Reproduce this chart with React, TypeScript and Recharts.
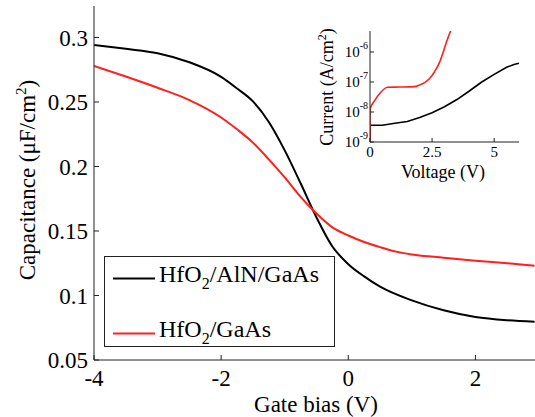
import { Label, Legend, Line, LineChart, XAxis, YAxis } from "recharts";

const FONT = "'Liberation Serif', 'Times New Roman', serif";
const RED = "#ff1f1f";

// C-V curves (gate bias in V, capacitance in uF/cm2)
const alnBias = [-4, -3.5, -3, -2.5, -2, -1.75, -1.5, -1.25, -1, -0.75, -0.5, -0.25, 0, 0.25, 0.5, 1, 1.5, 2, 2.5, 2.93];
const alnCap = [0.2942, 0.2912, 0.2878, 0.2808, 0.2695, 0.2605, 0.2505, 0.2345, 0.2125, 0.187, 0.1605, 0.138, 0.1243, 0.1148, 0.1068, 0.0962, 0.0885, 0.0833, 0.0808, 0.0797];
const gaasBias = [-4, -3.5, -3, -2.5, -2, -1.75, -1.5, -1.25, -1, -0.75, -0.5, -0.25, 0, 0.25, 0.5, 0.75, 1, 1.5, 2, 2.5, 2.93];
const gaasCap = [0.278, 0.2697, 0.261, 0.2515, 0.238, 0.2288, 0.2185, 0.2055, 0.1915, 0.1765, 0.1635, 0.1528, 0.1465, 0.1415, 0.1375, 0.134, 0.1318, 0.1293, 0.127, 0.125, 0.1231];

const biasTicks = [-4, -2, 0, 2];
const capTicks = [0.05, 0.1, 0.15, 0.2, 0.25, 0.3];

// inset: leakage current (voltage in V, current in A/cm2)
const alnVolt = [0, 0, 0.1, 0.5, 1.0, 1.5, 2.0, 2.5, 3.0, 3.5, 4.0, 4.5, 5.0, 5.5, 5.8, 6.0];
const alnCurr = [1e-9, 3.6e-9, 3.6e-9, 3.6e-9, 4.2e-9, 4.8e-9, 6.5e-9, 9.5e-9, 1.5e-8, 2.6e-8, 5e-8, 1e-7, 1.8e-7, 3.1e-7, 3.8e-7, 4.2e-7];
const gaasVolt = [0, 0, 0.2, 0.4, 0.7, 1.2, 1.8, 2.0, 2.2, 2.4, 2.6, 2.8, 2.95, 3.1, 3.3];
const gaasCurr = [1e-9, 1.2e-8, 2.5e-8, 4.2e-8, 6.7e-8, 6.8e-8, 7e-8, 8e-8, 9.5e-8, 1.3e-7, 2.2e-7, 4.5e-7, 1e-6, 2.4e-6, 6.5e-6];

const voltTicks = [0, 2.5, 5];
const currTicks = [1e-9, 1e-8, 1e-7, 1e-6];
const currMinor = [1e-9, 1e-8, 1e-7, 1e-6].flatMap((d) => [1, 2, 3, 4, 5, 6, 7, 8, 9].map((k) => k * d)).filter((v) => v <= 5e-6);

const series = [
  { name: "HfO", sub: "2", rest: "/AlN/GaAs", color: "#000" },
  { name: "HfO", sub: "2", rest: "/GaAs", color: RED },
];

const zip = (xs: number[], ys: number[]) => xs.map((x, i) => ({ x, y: ys[i] }));

const axisStroke = "#222";
const mainTick = { fontSize: 23, fill: "#000", fontFamily: FONT };
const blank = () => "";

const PowTick = (props: any) => {
  const { x, y, payload } = props;
  const exp = Math.round(Math.log10(payload.value));
  return (
    <text x={x} y={y} dy={5} textAnchor="end" fontFamily={FONT} fontSize={15} fill="#000">
      <tspan>10</tspan>
      <tspan dy={-8} fontSize={10}>{exp}</tspan>
    </text>
  );
};

const LegendBox = () => (
  <svg width={231} height={91} style={{ display: "block" }}>
    <rect x={0.5} y={0.5} width={230} height={90} fill="#fff" stroke={axisStroke} />
    {series.map((s, i) => (
      <g key={i}>
        <line x1={9} x2={51} y1={22.5 + i * 55} y2={22.5 + i * 55} stroke={s.color} strokeWidth={2} />
        <text x={55} y={26 + i * 55} fontFamily={FONT} fontSize={24} fill="#000">
          {s.name}
          <tspan dy={7} fontSize={16}>{s.sub}</tspan>
          <tspan dy={-7}>{s.rest}</tspan>
        </text>
      </g>
    ))}
  </svg>
);

export default function App() {
  return (
    <div style={{ position: "absolute", left: 0, top: 0, width: 535, height: 417, overflow: "hidden", background: "#fff" }}>
      <LineChart width={545} height={417} margin={{ top: 6, right: 6, bottom: 0, left: 0 }}>
        <XAxis xAxisId="b" type="number" dataKey="x" domain={[-4, 3]} ticks={biasTicks} allowDataOverflow
          height={57} tickSize={-5} tickMargin={15} tick={mainTick} stroke={axisStroke}>
          <Label content={() => (
            <text x={316} y={412} textAnchor="middle" fontFamily={FONT} fontSize={23} fill="#000">Gate bias (V)</text>
          )} />
        </XAxis>
        <XAxis xAxisId="t" orientation="top" type="number" domain={[-4, 3]} ticks={biasTicks} allowDataOverflow
          height={0} tickSize={-5} tickFormatter={blank} stroke={axisStroke} />
        <YAxis yAxisId="l" type="number" domain={[0.05, 0.3244]} ticks={capTicks} allowDataOverflow
          width={94} tickSize={-5} tickMargin={11} tick={mainTick} stroke={axisStroke}>
          <Label content={() => (
            <text transform="rotate(-90 35 180)" x={35} y={180} textAnchor="middle" fontFamily={FONT} fontSize={23} fill="#000">
              Capacitance (μF/cm<tspan dy={-9} fontSize={15}>2</tspan><tspan dy={9}>)</tspan>
            </text>
          )} />
        </YAxis>
        <YAxis yAxisId="r" orientation="right" type="number" domain={[0.05, 0.3244]} ticks={capTicks} allowDataOverflow
          width={0} tickSize={-5} tickFormatter={blank} stroke={axisStroke} />
        <Line xAxisId="b" yAxisId="l" data={zip(alnBias, alnCap)} dataKey="y" type="monotone" stroke="#000" strokeWidth={2} dot={false} isAnimationActive={false} />
        <Line xAxisId="b" yAxisId="l" data={zip(gaasBias, gaasCap)} dataKey="y" type="monotone" stroke={RED} strokeWidth={2} dot={false} isAnimationActive={false} />
        <Legend content={LegendBox} layout="horizontal" verticalAlign="middle" align="center"
          wrapperStyle={{ left: 104, top: 256, width: 231, height: 91 }} />
      </LineChart>

      <div style={{ position: "absolute", left: 300, top: 20 }}>
        <LineChart width={230} height={175} margin={{ top: 11, right: 11, bottom: 0, left: 0 }}>
          <XAxis xAxisId="b" type="number" dataKey="x" domain={[0, 6]} ticks={voltTicks} allowDataOverflow
            height={53} tickSize={-4} tickMargin={8} tick={{ fontSize: 15, fill: "#000", fontFamily: FONT }} stroke={axisStroke}>
            <Label content={() => (
              <text x={143} y={158} textAnchor="middle" fontFamily={FONT} fontSize={18} fill="#000">Voltage (V)</text>
            )} />
          </XAxis>
          <XAxis xAxisId="t" orientation="top" type="number" domain={[0, 6]} ticks={voltTicks} allowDataOverflow
            height={0} tickSize={-4} tickFormatter={blank} stroke={axisStroke} />
          <YAxis yAxisId="l" type="number" scale="log" domain={[1e-9, 5e-6]} ticks={currTicks} allowDataOverflow
            width={70} tickSize={-4} tickMargin={6} tick={<PowTick />} stroke={axisStroke}>
            <Label content={() => (
              <text transform="rotate(-90 33 67)" x={33} y={67} textAnchor="middle" fontFamily={FONT} fontSize={18} fill="#000">
                Current (A/cm<tspan dy={-7} fontSize={12}>2</tspan><tspan dy={7}>)</tspan>
              </text>
            )} />
          </YAxis>
          <YAxis yAxisId="r" orientation="right" type="number" scale="log" domain={[1e-9, 5e-6]} ticks={currMinor} allowDataOverflow
            width={0} tickSize={-3} tickFormatter={blank} stroke={axisStroke} />
          <Line xAxisId="b" yAxisId="l" data={zip(alnVolt, alnCurr)} dataKey="y" type="linear" stroke="#000" strokeWidth={1.6} dot={false} isAnimationActive={false} />
          <Line xAxisId="b" yAxisId="l" data={zip(gaasVolt, gaasCurr)} dataKey="y" type="monotone" stroke={RED} strokeWidth={1.6} dot={false} isAnimationActive={false} />
        </LineChart>
      </div>
    </div>
  );
}
